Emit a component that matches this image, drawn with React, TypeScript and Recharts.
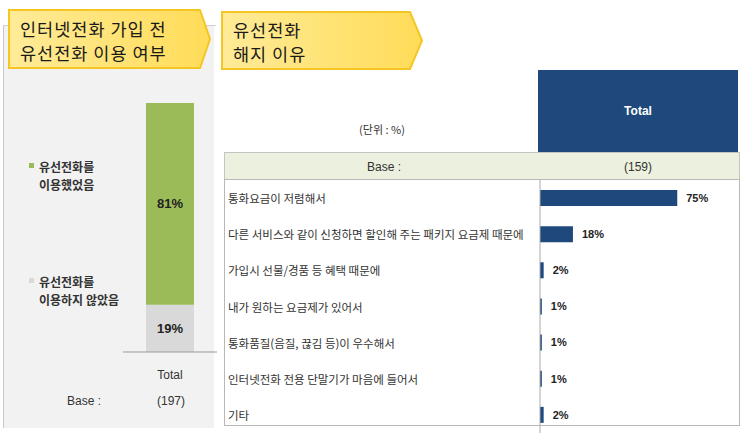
import React from 'react';
import { BarChart, Bar, XAxis, YAxis, LabelList } from 'recharts';

// ---- data ----
const leftCategories = ['Total'];
const usedValues = [81];
const notUsedValues = [19];
const leftBase = '(197)';

const reasonLabels = [
  '통화요금이 저렴해서',
  '다른 서비스와 같이 신청하면 할인해 주는 패키지 요금제 때문에',
  '가입시 선물/경품 등 혜택 때문에',
  '내가 원하는 요금제가 있어서',
  '통화품질(음질, 끊김 등)이 우수해서',
  '인터넷전화 전용 단말기가 마음에 들어서',
  '기타',
];
const reasonValues = [75, 18, 2, 1, 1, 1, 2];
const rightBase = '(159)';

const leftData = leftCategories.map((name, i) => ({
  name,
  notUsed: notUsedValues[i],
  used: usedValues[i],
}));
const rightData = reasonLabels.map((name, i) => ({ name, value: reasonValues[i] }));

const KR = "'Noto Sans CJK KR', 'Noto Sans', sans-serif";
const LAT = "'Liberation Sans', Arial, 'Noto Sans CJK KR', sans-serif";
const NAVY = '#1f497d';
const GREEN = '#9bbb59';
const GRAY = '#d9d9d9';

const pct = (v: any) => `${v}%`;

const ReasonTick = (props: any) => {
  const { y, payload } = props;
  return (
    <text x={4} y={y} dominantBaseline="central" fontSize={11.5} fill="#333" fontFamily={KR}>
      {payload.value}
    </text>
  );
};

export default function App() {
  return (
    <div style={{ position: 'absolute', left: 0, top: 0, width: 743, height: 433, background: '#fff', overflow: 'hidden' }}>
      {/* background decorations */}
      <svg width={743} height={433} style={{ position: 'absolute', left: 0, top: 0 }}>
        <defs>
          <linearGradient id="ban" x1="0" y1="0" x2="1" y2="0">
            <stop offset="0" stopColor="#ffeb98" />
            <stop offset="1" stopColor="#ffdc58" />
          </linearGradient>
        </defs>
        {/* left panel */}
        <rect x={3} y={25} width={211} height={403} fill="#f2f2f2" />
        <line x1={3.5} y1={25} x2={3.5} y2={428} stroke="#c8c8c8" />
        <line x1={3} y1={25.5} x2={216} y2={25.5} stroke="#cfcfcf" />
        {/* banners */}
        <polygon points="9,10 200,10 210,39 200,68 9,68" fill="url(#ban)" stroke="#f5c623" strokeWidth={2} />
        <polygon points="222,12 410,12 422,40.5 410,69 222,69" fill="url(#ban)" stroke="#f5c623" strokeWidth={2} />
        {/* right table */}
        <rect x={538} y={70} width={200} height={82} fill={NAVY} />
        <rect x={224.5} y={152.5} width={515} height={27} fill="#ebf1de" stroke="#c4c4c4" />
        <rect x={224.5} y={179.5} width={515} height={246} fill="#fff" stroke="#b8b8b8" />
      </svg>

      {/* left stacked bar */}
      <div style={{ position: 'absolute', left: 0, top: 0 }}>
        <BarChart
          width={220}
          height={392}
          data={leftData}
          margin={{ top: 103, right: 3, bottom: 10, left: 123 }}
          barCategoryGap={0}
        >
          <XAxis
            dataKey="name"
            axisLine={{ stroke: '#999' }}
            tickLine={false}
            height={30}
            tickMargin={12}
            tick={{ fill: '#333', fontSize: 12, fontFamily: LAT }}
          />
          <YAxis hide domain={[0, 100]} width={0} />
          <Bar dataKey="notUsed" stackId="a" fill={GRAY} barSize={48} isAnimationActive={false}>
            <LabelList dataKey="notUsed" position="center" formatter={pct} fill="#222" fontSize={13} fontWeight="bold" fontFamily={LAT} />
          </Bar>
          <Bar dataKey="used" stackId="a" fill={GREEN} barSize={48} isAnimationActive={false}>
            <LabelList dataKey="used" position="center" formatter={pct} fill="#222" fontSize={13} fontWeight="bold" fontFamily={LAT} />
          </Bar>
        </BarChart>
      </div>

      {/* right horizontal bars */}
      <div style={{ position: 'absolute', left: 224, top: 180 }}>
        <BarChart
          width={516}
          height={253}
          data={rightData}
          layout="vertical"
          margin={{ top: 0, right: 17, bottom: 0, left: 0 }}
          barCategoryGap={0}
        >
          <XAxis type="number" domain={[0, 100]} hide />
          <YAxis
            type="category"
            dataKey="name"
            width={316}
            axisLine={{ stroke: '#aaa' }}
            tickLine={false}
            interval={0}
            tick={ReasonTick}
          />
          <Bar dataKey="value" fill={NAVY} barSize={16} isAnimationActive={false}>
            <LabelList dataKey="value" position="right" offset={9} formatter={pct} fill="#222" fontSize={11} fontWeight="bold" fontFamily={LAT} />
          </Bar>
        </BarChart>
      </div>

      {/* texts */}
      <svg width={743} height={433} style={{ position: 'absolute', left: 0, top: 0, pointerEvents: 'none' }}>
        <g fontFamily={KR} fontSize={17.5} fill="#1a1a1a" letterSpacing={1}>
          <text x={20} y={28} dominantBaseline="central">인터넷전화 가입 전</text>
          <text x={20} y={52} dominantBaseline="central">유선전화 이용 여부</text>
          <text x={233} y={29} dominantBaseline="central">유선전화</text>
          <text x={233} y={53} dominantBaseline="central">해지 이유</text>
        </g>
        {/* legend */}
        <rect x={29} y={163} width={5} height={5} fill={GREEN} />
        <rect x={29} y={278} width={5} height={5} fill={GRAY} />
        <g fontFamily={KR} fontSize={12} fontWeight="bold" fill="#333">
          <text x={39} y={166} dominantBaseline="central">유선전화를</text>
          <text x={39} y={184} dominantBaseline="central">이용했었음</text>
          <text x={39} y={281} dominantBaseline="central">유선전화를</text>
          <text x={39} y={299} dominantBaseline="central">이용하지 않았음</text>
        </g>
        <g fontFamily={LAT} fontSize={12} fill="#333">
          <text x={67} y={401} dominantBaseline="central">Base :</text>
          <text x={171} y={401} dominantBaseline="central" textAnchor="middle">{leftBase}</text>
          <text x={384} y={167} dominantBaseline="central" textAnchor="middle">Base :</text>
          <text x={638} y={167} dominantBaseline="central" textAnchor="middle">{rightBase}</text>
        </g>
        <text x={382} y={129} dominantBaseline="central" textAnchor="middle" fontFamily={KR} fontSize={11} fill="#333">(단위 : %)</text>
        <text x={638} y={111} dominantBaseline="central" textAnchor="middle" fontFamily={LAT} fontSize={12} fontWeight="bold" fill="#fff">Total</text>
      </svg>
    </div>
  );
}
